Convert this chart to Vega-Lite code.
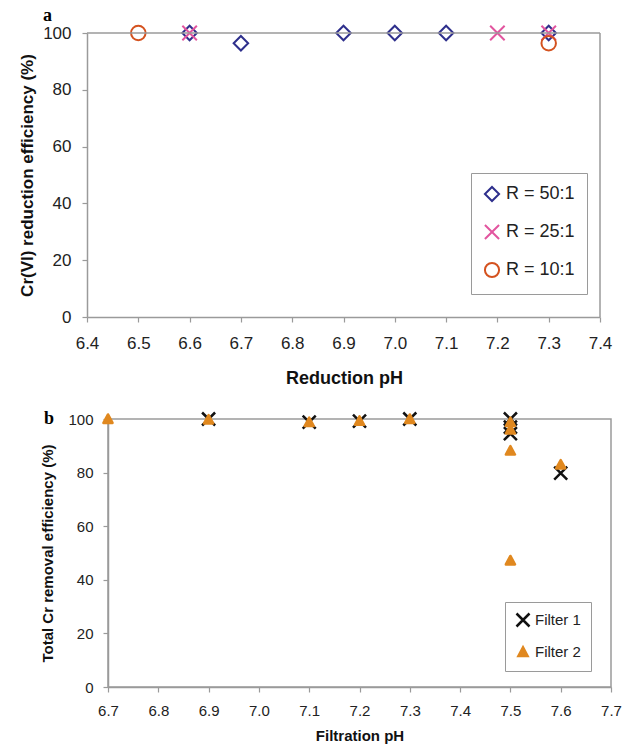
{
  "$schema": "https://vega.github.io/schema/vega-lite/v6.json",
  "background": "white",
  "padding": {"left": 18, "top": 6, "right": 5, "bottom": 0},
  "config": {
    "font": "Liberation Sans",
    "view": {"stroke": "#9a9a9a", "strokeWidth": 1.5},
    "axis": {"grid": false, "domainColor": "#9a9a9a", "domainWidth": 1.5, "tickColor": "#9a9a9a", "tickWidth": 1.2, "tickSize": 5, "labelColor": "#222", "titleColor": "#111", "labelFont": "Liberation Sans", "titleFont": "Liberation Sans", "titleFontWeight": "bold", "labelFlush": false, "labelOverlap": false},
    "legend": {"strokeColor": "#9a9a9a", "fillColor": "white", "orient": "none", "labelFont": "Liberation Sans", "labelColor": "#222"}
  },
  "align": "none",
  "spacing": 22,
  "resolve": {
    "scale": {"x": "independent", "y": "independent", "color": "independent", "shape": "independent", "fill": "independent", "stroke": "independent"},
    "legend": {"color": "independent", "shape": "independent", "fill": "independent", "stroke": "independent"}
  },
  "vconcat": [
    {
      "width": 492,
      "height": 284,
      "view": {"stroke": null},
      "title": {"text": "a", "anchor": "start", "frame": "group", "dx": -65, "offset": -3, "font": "Liberation Serif", "fontSize": 18, "fontWeight": "bold", "color": "#000"},
      "layer": [
        {
          "data": {"values": [
            {"pH": 6.6, "eff": 100, "R": "R = 50:1"},
            {"pH": 6.7, "eff": 96.4, "R": "R = 50:1"},
            {"pH": 6.9, "eff": 100, "R": "R = 50:1"},
            {"pH": 7.0, "eff": 100, "R": "R = 50:1"},
            {"pH": 7.1, "eff": 100, "R": "R = 50:1"},
            {"pH": 7.3, "eff": 100, "R": "R = 50:1"},
            {"pH": 6.6, "eff": 100, "R": "R = 25:1"},
            {"pH": 7.2, "eff": 100, "R": "R = 25:1"},
            {"pH": 7.3, "eff": 100, "R": "R = 25:1"},
            {"pH": 6.5, "eff": 100, "R": "R = 10:1"},
            {"pH": 7.3, "eff": 96.4, "R": "R = 10:1"}
          ]},
          "mark": {"type": "point", "filled": false, "strokeWidth": 2, "size": 210, "opacity": 1},
          "encoding": {
            "x": {"field": "pH", "type": "quantitative", "scale": {"domain": [6.4, 7.4], "nice": false, "zero": false, "range": [-21, 492]},
              "axis": {"title": "Reduction pH", "values": [6.4, 6.5, 6.6, 6.7, 6.8, 6.9, 7.0, 7.1, 7.2, 7.3, 7.4], "format": ".1f", "labelFontSize": 17, "titleFontSize": 18, "labelPadding": 13, "titlePadding": 18, "titleX": 236}},
            "y": {"field": "eff", "type": "quantitative", "scale": {"domain": [0, 100], "nice": false},
              "axis": {"title": "Cr(VI) reduction efficiency (%)", "values": [0, 20, 40, 60, 80, 100], "labelFontSize": 17, "titleFontSize": 17, "labelPadding": 11, "titlePadding": 6, "offset": 21}},
            "color": {"field": "R", "type": "nominal", "scale": {"domain": ["R = 50:1", "R = 25:1", "R = 10:1"], "range": ["#2e2f8c", "#e2559f", "#d4521f"]},
              "legend": {"title": null, "legendX": 363, "legendY": 140, "labelFontSize": 18, "padding": 12, "rowPadding": 14, "symbolSize": 200, "symbolStrokeWidth": 2, "labelOffset": 5}},
            "shape": {"field": "R", "type": "nominal", "scale": {"domain": ["R = 50:1", "R = 25:1", "R = 10:1"], "range": ["diamond", "M-1,-1L1,1M-1,1L1,-1", "circle"]},
              "legend": {"title": null, "legendX": 363, "legendY": 140, "labelFontSize": 18, "padding": 12, "rowPadding": 14, "symbolSize": 200, "symbolStrokeWidth": 2, "labelOffset": 5}}
          }
        },
        {
          "data": {"values": [{}]},
          "mark": {"type": "rule", "color": "#9a9a9a", "strokeWidth": 1.5},
          "encoding": {
            "x": {"datum": 6.4, "type": "quantitative"},
            "x2": {"datum": 7.4},
            "y": {"datum": 100, "type": "quantitative"}
          }
        },
        {
          "data": {"values": [{}]},
          "mark": {"type": "rule", "color": "#9a9a9a", "strokeWidth": 1.5},
          "encoding": {
            "x": {"datum": 7.4, "type": "quantitative"},
            "y": {"datum": 0, "type": "quantitative"},
            "y2": {"datum": 100}
          }
        }
      ]
    },
    {
      "width": 503,
      "height": 268,
      "title": {"text": "b", "anchor": "start", "frame": "group", "dx": -64, "offset": -17, "font": "Liberation Serif", "fontSize": 18, "fontWeight": "bold", "color": "#000"},
      "data": {"values": [
        {"pH": 6.9, "eff": 100, "Filter": "Filter 1"},
        {"pH": 7.1, "eff": 98.8, "Filter": "Filter 1"},
        {"pH": 7.2, "eff": 99.2, "Filter": "Filter 1"},
        {"pH": 7.3, "eff": 100, "Filter": "Filter 1"},
        {"pH": 7.5, "eff": 100, "Filter": "Filter 1"},
        {"pH": 7.5, "eff": 97, "Filter": "Filter 1"},
        {"pH": 7.5, "eff": 94.5, "Filter": "Filter 1"},
        {"pH": 7.6, "eff": 79.8, "Filter": "Filter 1"},
        {"pH": 6.7, "eff": 100, "Filter": "Filter 2"},
        {"pH": 6.9, "eff": 99.8, "Filter": "Filter 2"},
        {"pH": 7.1, "eff": 98.8, "Filter": "Filter 2"},
        {"pH": 7.2, "eff": 99.3, "Filter": "Filter 2"},
        {"pH": 7.3, "eff": 100, "Filter": "Filter 2"},
        {"pH": 7.5, "eff": 98.8, "Filter": "Filter 2"},
        {"pH": 7.5, "eff": 96, "Filter": "Filter 2"},
        {"pH": 7.5, "eff": 88.2, "Filter": "Filter 2"},
        {"pH": 7.5, "eff": 47.2, "Filter": "Filter 2"},
        {"pH": 7.6, "eff": 83, "Filter": "Filter 2"}
      ]},
      "mark": {"type": "point", "strokeWidth": 2.5, "size": 169, "strokeJoin": "round", "opacity": 1},
      "encoding": {
        "x": {"field": "pH", "type": "quantitative", "scale": {"domain": [6.7, 7.7], "nice": false, "zero": false},
          "axis": {"title": "Filtration pH", "values": [6.7, 6.8, 6.9, 7.0, 7.1, 7.2, 7.3, 7.4, 7.5, 7.6, 7.7], "format": ".1f", "labelFontSize": 15, "titleFontSize": 15, "labelPadding": 11, "titlePadding": 10}},
        "y": {"field": "eff", "type": "quantitative", "scale": {"domain": [0, 100], "nice": false},
          "axis": {"title": "Total Cr removal efficiency (%)", "values": [0, 20, 40, 60, 80, 100], "labelFontSize": 15, "titleFontSize": 15, "labelPadding": 10, "titlePadding": 12}},
        "stroke": {"field": "Filter", "type": "nominal", "scale": {"domain": ["Filter 1", "Filter 2"], "range": ["#111111", "#e0881f"]},
          "legend": {"title": null, "legendX": 397, "legendY": 183, "labelFontSize": 15, "padding": 10, "rowPadding": 10, "symbolSize": 169, "symbolStrokeWidth": 2.5, "labelOffset": 4}},
        "fill": {"field": "Filter", "type": "nominal", "scale": {"domain": ["Filter 1", "Filter 2"], "range": ["#111111", "#e0881f"]},
          "legend": {"title": null, "legendX": 397, "legendY": 183, "labelFontSize": 15, "padding": 10, "rowPadding": 10, "symbolSize": 169, "symbolStrokeWidth": 2.5, "labelOffset": 4}},
        "shape": {"field": "Filter", "type": "nominal", "scale": {"domain": ["Filter 1", "Filter 2"], "range": ["M-1,-1L1,1M-1,1L1,-1", "M0,-0.7L0.7,0.6L-0.7,0.6Z"]},
          "legend": {"title": null, "legendX": 397, "legendY": 183, "labelFontSize": 15, "padding": 10, "rowPadding": 10, "symbolSize": 169, "symbolStrokeWidth": 2.5, "labelOffset": 4}}
      }
    }
  ]
}
